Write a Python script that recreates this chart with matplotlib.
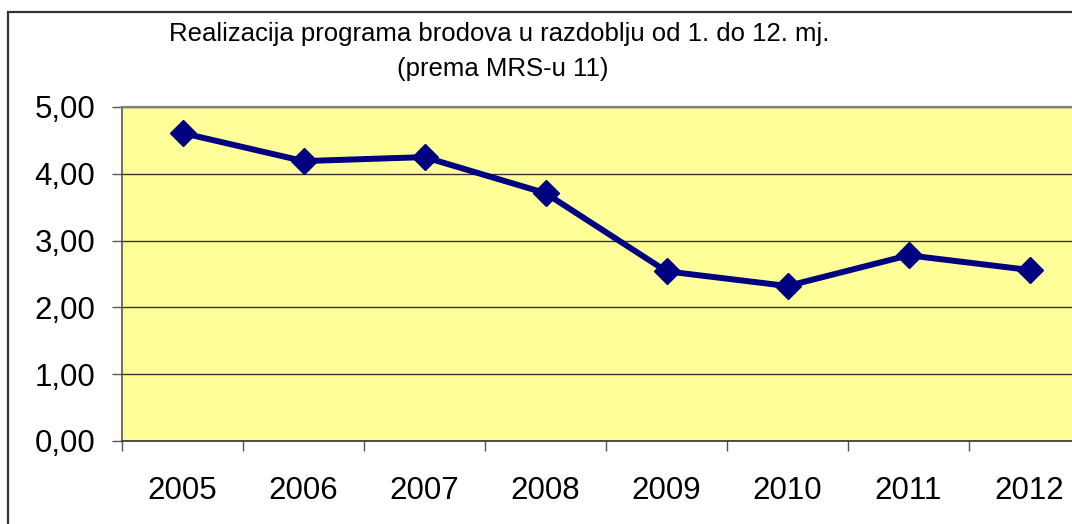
import matplotlib
matplotlib.use("Agg")
import matplotlib.pyplot as plt
from matplotlib.patches import Rectangle

years = ["2005", "2006", "2007", "2008", "2009", "2010", "2011", "2012"]
values = [4.61, 4.19, 4.25, 3.71, 2.54, 2.32, 2.78, 2.56]
yticks = [0, 1, 2, 3, 4, 5]
ytick_labels = ["0,00", "1,00", "2,00", "3,00", "4,00", "5,00"]
title_lines = ["Realizacija programa brodova u razdoblju od 1. do 12. mj.", "(prema MRS-u 11)"]

plt.rcParams['font.family'] = ['Liberation Sans', 'DejaVu Sans']

W, H = 1072, 524
fig = plt.figure(figsize=(W / 100, H / 100), dpi=100)
fig.patch.set_facecolor("white")

# figure border (chart area frame)
fig.patches.append(Rectangle((8 / W, -0.2), 1.2, 1.2 - 12 / H, transform=fig.transFigure,
                             fill=False, edgecolor="#333333", linewidth=1.6, clip_on=False))

ax = fig.add_axes([122 / W, 83 / H, 968 / W, 334 / H])
ax.set_facecolor("#FFFF99")

x = list(range(len(years)))
ax.plot(x, values, color="#000080", linewidth=4.3, marker="D", markersize=13.5,
        markerfacecolor="#000080", markeredgecolor="#000080", zorder=3, clip_on=False)

ax.set_xlim(-0.5, len(years) - 0.5)
ax.set_ylim(0, 5)
ax.set_yticks(yticks)
ax.set_yticklabels(ytick_labels)
ax.set_xticks([i + 0.5 for i in range(-1, len(years))], minor=False)
ax.set_xticklabels([""] * (len(years) + 1))
ax.set_xticks(x, minor=True)
ax.set_xticklabels(years, minor=True)
ax.tick_params(axis="x", which="major", direction="out", length=7.2, width=1, color="#555555")
ax.tick_params(axis="x", which="minor", length=0, pad=25, labelsize=22.5)
ax.tick_params(axis="y", direction="out", length=7.2, width=1, color="#555555", pad=12, labelsize=22.5)

ax.grid(axis="y", color="#333333", linewidth=1.0)
ax.set_axisbelow(True)

ax.spines["top"].set_color("#808080")
ax.spines["top"].set_linewidth(1.6)
ax.spines["right"].set_visible(False)
ax.spines["left"].set_color("#555555")
ax.spines["left"].set_linewidth(1.2)
ax.spines["bottom"].set_color("#333333")
ax.spines["bottom"].set_linewidth(1.2)

fig.text(499 / W, 1 - 34 / H, title_lines[0], ha="center", va="center", fontsize=18.5)
fig.text(503 / W, 1 - 69 / H, title_lines[1], ha="center", va="center", fontsize=18.5)

fig.savefig("out.png", dpi=100)
